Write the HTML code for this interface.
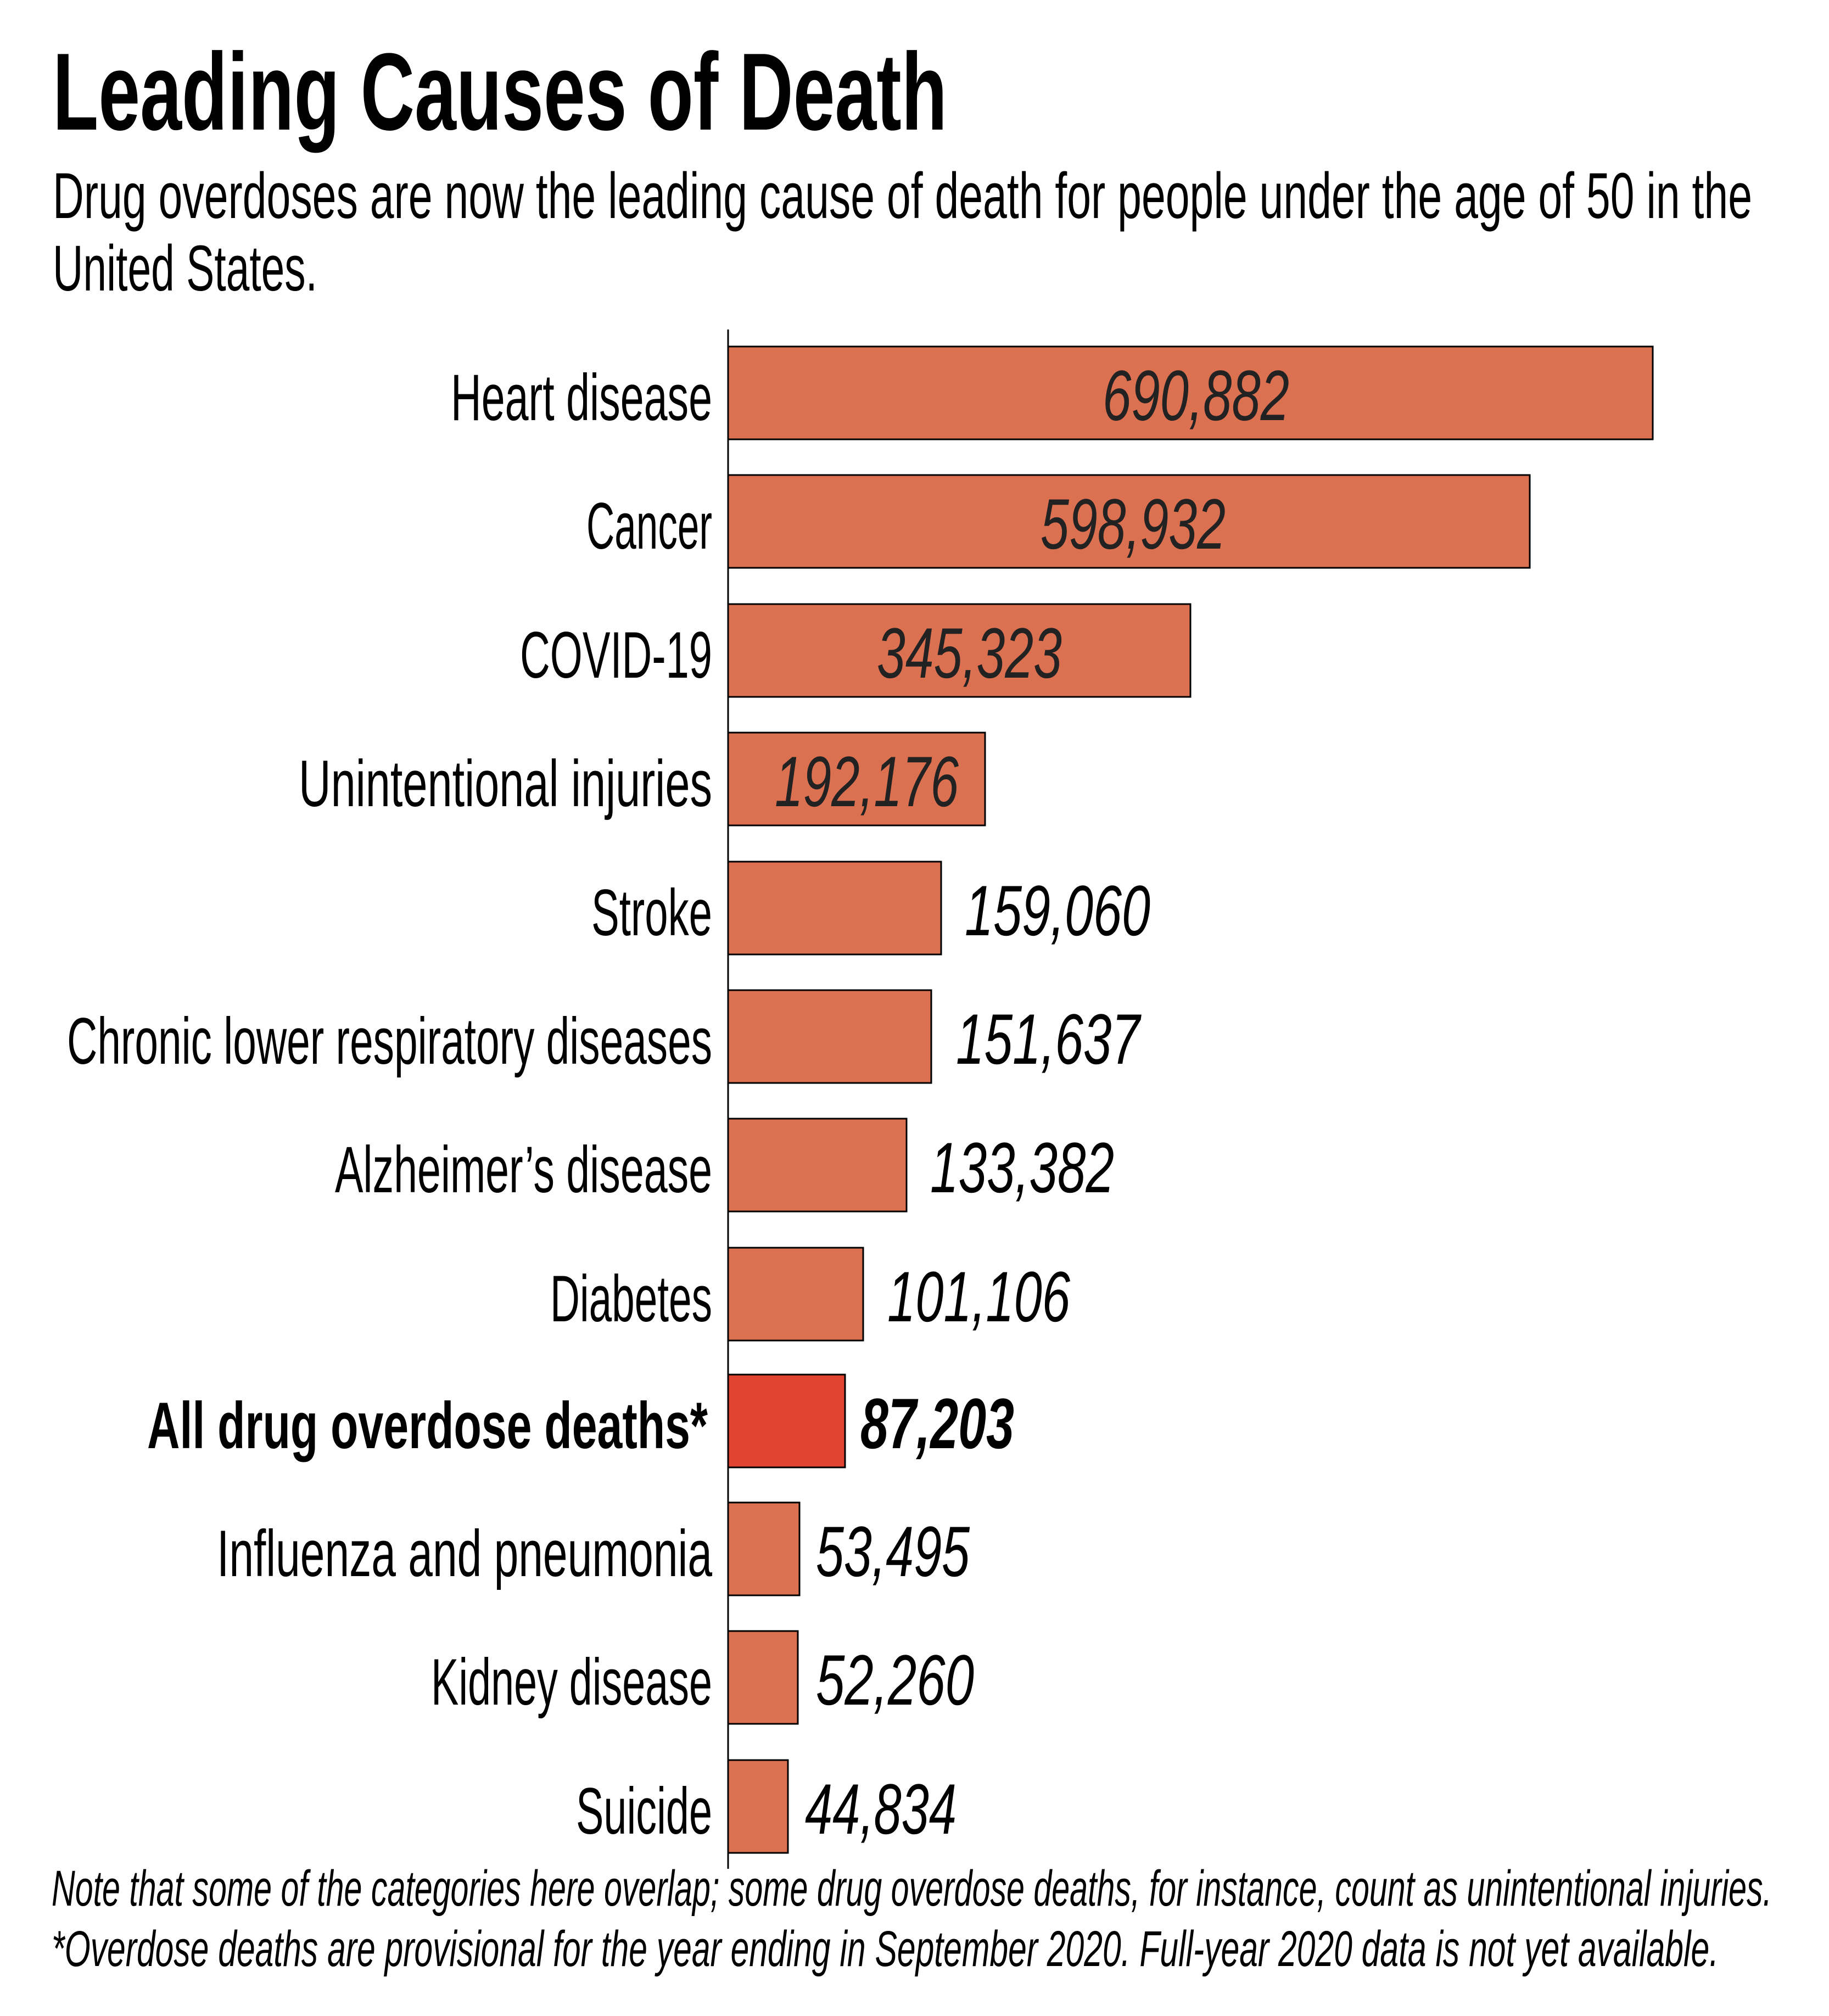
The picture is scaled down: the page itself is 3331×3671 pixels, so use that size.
<!DOCTYPE html>
<html><head><meta charset="utf-8"><style>html,body{margin:0;padding:0;background:#fff}svg{display:block}</style></head>
<body>
<svg width="3331" height="3671" viewBox="0 0 3331 3671" xmlns="http://www.w3.org/2000/svg" font-family="'Liberation Sans', sans-serif">
<rect width="3331" height="3671" fill="#fff"/>
<text x="96" y="236" font-size="200" font-weight="bold" textLength="1629" lengthAdjust="spacingAndGlyphs">Leading Causes of Death</text>
<text x="96" y="397" font-size="118" textLength="3095" lengthAdjust="spacingAndGlyphs">Drug overdoses are now the leading cause of death for people under the age of 50 in the</text>
<text x="96" y="529" font-size="118" textLength="482" lengthAdjust="spacingAndGlyphs">United States.</text>
<line x1="1326" y1="600" x2="1326" y2="3403" stroke="#000" stroke-width="3"/>
<g stroke="#000" stroke-width="3" fill="#DC7152">
<rect x="1326" y="631" width="1684" height="169"/>
<rect x="1326" y="865" width="1460" height="169"/>
<rect x="1326" y="1100" width="842" height="169"/>
<rect x="1326" y="1334" width="468" height="169"/>
<rect x="1326" y="1569" width="388" height="169"/>
<rect x="1326" y="1803" width="370" height="169"/>
<rect x="1326" y="2037" width="325" height="169"/>
<rect x="1326" y="2272" width="246" height="169"/>
<rect x="1326" y="2503" width="213" height="169" fill="#DF4531"/>
<rect x="1326" y="2736" width="130" height="169"/>
<rect x="1326" y="2970" width="127" height="169"/>
<rect x="1326" y="3205" width="109" height="169"/>
</g>
<g font-size="120" transform="translate(-8,0)">
<text x="829" y="765" textLength="476" lengthAdjust="spacingAndGlyphs">Heart disease</text>
<text x="1076" y="999" textLength="229" lengthAdjust="spacingAndGlyphs">Cancer</text>
<text x="955" y="1234" textLength="350" lengthAdjust="spacingAndGlyphs">COVID-19</text>
<text x="552" y="1468" textLength="753" lengthAdjust="spacingAndGlyphs">Unintentional injuries</text>
<text x="1085" y="1703" textLength="220" lengthAdjust="spacingAndGlyphs">Stroke</text>
<text x="130" y="1937" textLength="1175" lengthAdjust="spacingAndGlyphs">Chronic lower respiratory diseases</text>
<text x="618" y="2171" textLength="687" lengthAdjust="spacingAndGlyphs">Alzheimer’s disease</text>
<text x="1010" y="2406" textLength="295" lengthAdjust="spacingAndGlyphs">Diabetes</text>
<text x="276" y="2637" font-weight="bold" textLength="1021" lengthAdjust="spacingAndGlyphs">All drug overdose deaths*</text>
<text x="403" y="2870" textLength="902" lengthAdjust="spacingAndGlyphs">Influenza and pneumonia</text>
<text x="793" y="3104" textLength="512" lengthAdjust="spacingAndGlyphs">Kidney disease</text>
<text x="1057" y="3339" textLength="248" lengthAdjust="spacingAndGlyphs">Suicide</text>
</g>
<g font-size="130" font-style="italic">
<text x="2008" y="765" fill="#222" textLength="340" lengthAdjust="spacingAndGlyphs">690,882</text>
<text x="1895" y="999" fill="#222" textLength="337" lengthAdjust="spacingAndGlyphs">598,932</text>
<text x="1597" y="1234" fill="#222" textLength="337" lengthAdjust="spacingAndGlyphs">345,323</text>
<text x="1411" y="1468" fill="#222" textLength="335" lengthAdjust="spacingAndGlyphs">192,176</text>
<text x="1757" y="1703" textLength="338" lengthAdjust="spacingAndGlyphs">159,060</text>
<text x="1741" y="1937" textLength="335" lengthAdjust="spacingAndGlyphs">151,637</text>
<text x="1694" y="2171" textLength="335" lengthAdjust="spacingAndGlyphs">133,382</text>
<text x="1616" y="2406" textLength="333" lengthAdjust="spacingAndGlyphs">101,106</text>
<text x="1567" y="2637" font-weight="bold" textLength="280" lengthAdjust="spacingAndGlyphs">87,203</text>
<text x="1486" y="2870" textLength="280" lengthAdjust="spacingAndGlyphs">53,495</text>
<text x="1486" y="3104" textLength="288" lengthAdjust="spacingAndGlyphs">52,260</text>
<text x="1466" y="3339" textLength="276" lengthAdjust="spacingAndGlyphs">44,834</text>
</g>
<g font-size="92" font-style="italic">
<text x="94" y="3470" textLength="3133" lengthAdjust="spacingAndGlyphs">Note that some of the categories here overlap; some drug overdose deaths, for instance, count as unintentional injuries.</text>
<text x="94" y="3580" textLength="3036" lengthAdjust="spacingAndGlyphs">*Overdose deaths are provisional for the year ending in September 2020. Full-year 2020 data is not yet available.</text>
</g>
</svg>
</body></html>
